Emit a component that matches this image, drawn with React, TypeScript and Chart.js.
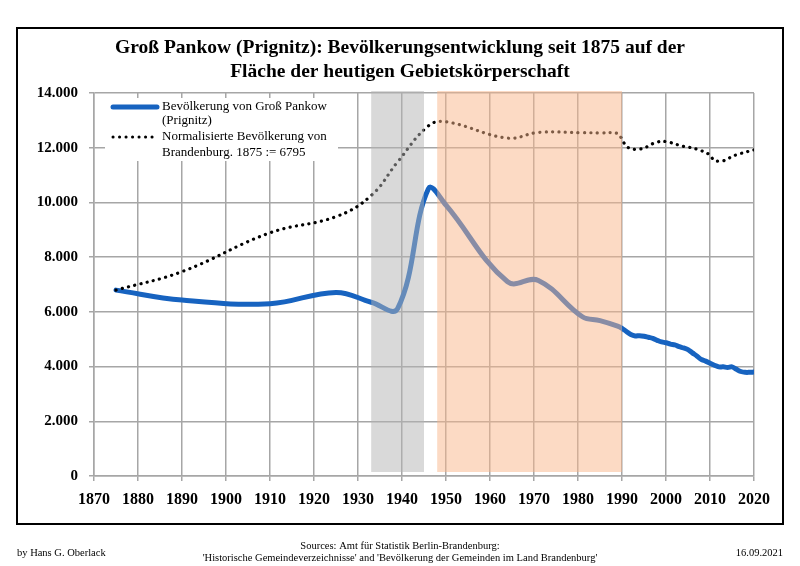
import React, { useEffect, useRef } from "react";
import { Chart, registerables } from "chart.js";

Chart.register(...registerables);

// ---- data ----
const years = [
  1875, 1890, 1910, 1925, 1933, 1939, 1946, 1950, 1964, 1971, 1981, 1985, 1989,
  1990, 1991, 1992, 1993, 1994, 1995, 1996, 1997, 1998, 1999, 2000, 2001, 2002,
  2003, 2004, 2005, 2006, 2007, 2008, 2009, 2010, 2011, 2012, 2013, 2014, 2015,
  2016, 2017, 2018, 2019, 2020,
];
const grossPankow = [
  6795, 6430, 6300, 6710, 6350, 6120, 10500, 9900, 7100, 7150, 5820, 5680, 5480,
  5400, 5280, 5170, 5120, 5130, 5110, 5070, 5030, 4960, 4900, 4870, 4820, 4790,
  4730, 4680, 4620, 4500, 4390, 4260, 4200, 4120, 4050, 3990, 3990, 3970, 3990,
  3900, 3820, 3790, 3790, 3800,
];
const brandenburg = [
  6795, 7470, 8890, 9480, 10250, 11480, 12800, 12950, 12350, 12560, 12550, 12540, 12520,
  12300, 12050, 11970, 11940, 11950, 11990, 12060, 12150, 12200, 12240, 12220, 12190, 12140,
  12090, 12050, 12030, 11980, 11950, 11890, 11830, 11720, 11530, 11510, 11520, 11590, 11680,
  11740, 11790, 11830, 11880, 11920,
];
const bandRanges = [
  [1933, 1945],
  [1948, 1990],
];
const titleLines = [
  "Groß Pankow (Prignitz): Bevölkerungsentwicklung seit 1875 auf der",
  "Fläche der heutigen Gebietskörperschaft",
];
const legendPankow = ["Bevölkerung von Groß Pankow", "(Prignitz)"];
const legendBrandenburg = ["Normalisierte Bevölkerung von", "Brandenburg. 1875 := 6795"];
const footerLeft = "by Hans G. Oberlack";
const footerCenter = [
  "Sources: Amt für Statistik Berlin-Brandenburg:",
  "'Historische Gemeindeverzeichnisse' and 'Bevölkerung der Gemeinden im Land Brandenburg'",
];
const footerRight = "16.09.2021";

const SERIF = "'Liberation Serif', 'DejaVu Serif', serif";
const BLUE = "#1763c0";
const GRID = "#a6a6a6";
const bandColors = ["rgba(179,179,179,0.5)", "rgba(249,181,137,0.5)"];

function fmt(v: number): string {
  if (v === 0) return "0";
  const t = Math.floor(v / 1000);
  const r = Math.round(v % 1000);
  return `${t}.${String(r).padStart(3, "0")}`;
}

const framePlugin = {
  id: "frame",
  beforeDraw(chart: any) {
    const ctx = chart.ctx;
    ctx.save();
    ctx.fillStyle = "#fff";
    ctx.fillRect(0, 0, chart.width, chart.height);
    ctx.strokeStyle = "#000";
    ctx.lineWidth = 2;
    ctx.strokeRect(17, 28, 766, 496);
    ctx.fillStyle = "#000";
    ctx.textAlign = "center";
    ctx.textBaseline = "middle";
    ctx.font = `bold 19.5px ${SERIF}`;
    ctx.fillText(titleLines[0], 400, 48);
    ctx.fillText(titleLines[1], 400, 72);
    ctx.font = `10.5px ${SERIF}`;
    ctx.fillText(footerCenter[0], 400, 546);
    ctx.fillText(footerCenter[1], 400, 558);
    ctx.textAlign = "left";
    ctx.fillText(footerLeft, 17, 553);
    ctx.textAlign = "right";
    ctx.fillText(footerRight, 783, 553);
    ctx.restore();
  },
};

const bandPlugin = {
  id: "bands",
  afterDatasetsDraw(chart: any) {
    const ctx = chart.ctx;
    const xs = chart.scales.x;
    const area = chart.chartArea;
    ctx.save();
    bandRanges.forEach((b, i) => {
      const x1 = xs.getPixelForValue(b[0]);
      const x2 = xs.getPixelForValue(b[1]);
      ctx.fillStyle = bandColors[i];
      ctx.fillRect(x1, area.top - 2, x2 - x1, area.bottom - area.top - 2);
    });
    ctx.restore();
  },
};

const legendPlugin = {
  id: "customLegend",
  afterDraw(chart: any) {
    const ctx = chart.ctx;
    ctx.save();
    ctx.fillStyle = "#fff";
    ctx.fillRect(105, 98, 233, 63);
    // blue sample
    ctx.strokeStyle = BLUE;
    ctx.lineWidth = 5;
    ctx.lineCap = "round";
    ctx.beginPath();
    ctx.moveTo(113, 107);
    ctx.lineTo(157, 107);
    ctx.stroke();
    // dotted sample
    ctx.strokeStyle = "#000";
    ctx.lineWidth = 3;
    ctx.setLineDash([0.1, 6.4]);
    ctx.beginPath();
    ctx.moveTo(113, 137);
    ctx.lineTo(155, 137);
    ctx.stroke();
    ctx.setLineDash([]);
    ctx.fillStyle = "#000";
    ctx.font = `13px ${SERIF}`;
    ctx.textAlign = "left";
    ctx.textBaseline = "middle";
    ctx.fillText(legendPankow[0], 162, 107);
    ctx.fillText(legendPankow[1], 162, 121);
    ctx.fillText(legendBrandenburg[0], 162, 137);
    ctx.fillText(legendBrandenburg[1], 162, 153);
    ctx.restore();
  },
};

export default function App() {
  const ref = useRef<HTMLCanvasElement | null>(null);
  useEffect(() => {
    if (!ref.current) return;
    const yFont = { family: SERIF, weight: "bold" as const, size: 15 };
    const xFont = { family: SERIF, weight: "bold" as const, size: 16 };
    const chart = new Chart(ref.current, {
      type: "line",
      data: {
        datasets: [
          {
            label: "Normalisierte Bevölkerung von Brandenburg",
            data: years.map((x, i) => ({ x, y: brandenburg[i] })),
            borderColor: "#000",
            borderWidth: 3.2,
            borderDash: [0.1, 6.3],
            borderCapStyle: "round",
            pointRadius: 0,
            tension: 0.4,
            fill: false,
            order: 0,
          },
          {
            label: "Bevölkerung von Groß Pankow (Prignitz)",
            data: years.map((x, i) => ({ x, y: grossPankow[i] })),
            borderColor: BLUE,
            borderWidth: 5,
            borderCapStyle: "round",
            pointRadius: 0,
            tension: 0.4,
            fill: false,
            order: 1,
          },
        ],
      },
      options: {
        animation: false,
        responsive: false,
        devicePixelRatio: 1,
        layout: { padding: { left: 0, right: 46, top: 93, bottom: 0 } },
        plugins: {
          legend: { display: false },
          title: { display: false },
          tooltip: { enabled: false },
        },
        scales: {
          x: {
            type: "linear",
            min: 1870,
            max: 2020,
            ticks: {
              stepSize: 10,
              callback: (v: any) => String(v),
              font: xFont,
              color: "#000",
              padding: 9,
              maxRotation: 0,
              autoSkip: false,
            },
            grid: { color: GRID, lineWidth: 1.5, tickLength: 5 },
            border: { color: GRID, width: 1.5 },
            afterFit: (s: any) => {
              s.height = 90;
            },
          },
          y: {
            min: 0,
            max: 14000,
            ticks: {
              stepSize: 2000,
              callback: (v: any) => fmt(Number(v)),
              font: yFont,
              color: "#000",
              padding: 11,
            },
            grid: { color: GRID, lineWidth: 1.5, tickLength: 5 },
            border: { color: GRID, width: 1.5 },
            afterFit: (s: any) => {
              s.width = 94;
            },
          },
        },
      },
      plugins: [framePlugin, bandPlugin, legendPlugin],
    } as any);
    return () => chart.destroy();
  }, []);
  return (
    <div style={{ position: "absolute", left: 0, top: 0, width: 800, height: 566 }}>
      <canvas ref={ref} width={800} height={566} style={{ display: "block" }} />
    </div>
  );
}
